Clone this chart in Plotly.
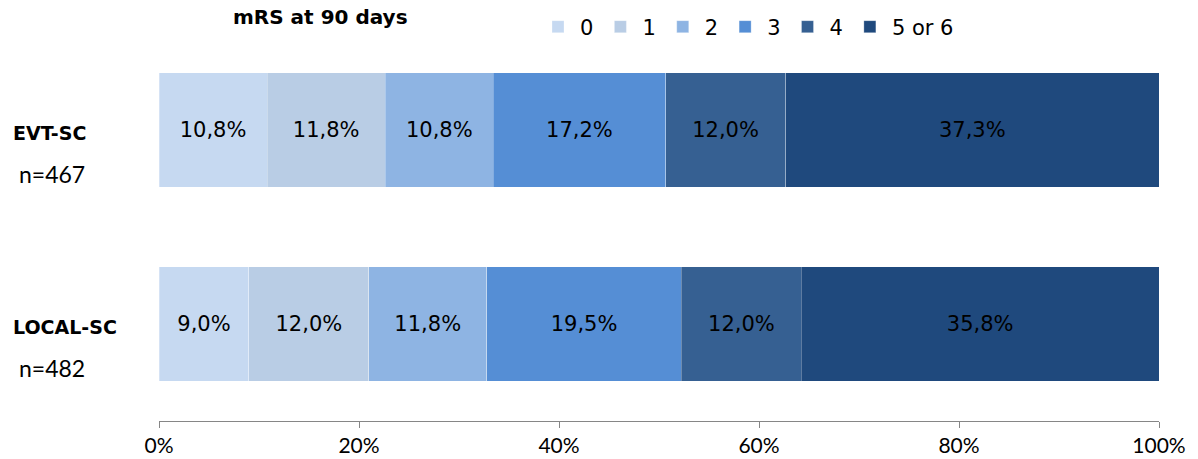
import plotly.graph_objects as go

groups = ["EVT-SC", "LOCAL-SC"]
group_n = ["n=467", "n=482"]
mrs_levels = ["0", "1", "2", "3", "4", "5 or 6"]
values = {
    "0": [10.8, 9.0],
    "1": [11.8, 12.0],
    "2": [10.8, 11.8],
    "3": [17.2, 19.5],
    "4": [12.0, 12.0],
    "5 or 6": [37.3, 35.8],
}
colors = ["#C6D9F1", "#B9CDE5", "#8EB4E3", "#558ED5", "#366092", "#1F497D"]
tick_vals = [0, 20, 40, 60, 80, 100]
tick_text = ["0%", "20%", "40%", "60%", "80%", "100%"]

fig = go.Figure()
for lvl, col in zip(mrs_levels, colors):
    vals = values[lvl]
    fig.add_trace(go.Bar(
        y=groups, x=vals, name=lvl, orientation="h",
        marker=dict(color=col, line=dict(color="rgba(255,255,255,0.35)", width=0.8)),
        text=[f"{v:.1f}%".replace(".", ",") for v in vals],
        textposition="inside", insidetextanchor="middle",
        textfont=dict(family="DejaVu Sans", size=21, color="#000000"),
        hoverinfo="skip",
    ))

L, R, T, B = 159, 39, 33, 38
W, H = 1198, 459
pw = W - L - R
ph = H - T - B

for i, (g, n) in enumerate(zip(groups, group_n)):
    fig.add_annotation(
        xref="paper", yref="y", x=(11 - L) / pw, y=g, xanchor="left",
        yshift=-3, text=f"<b>{g}</b>", showarrow=False,
        font=dict(family="DejaVu Sans", size=19, color="#000000"))
    fig.add_annotation(
        xref="paper", yref="y", x=(17 - L) / pw, y=g, xanchor="left",
        yshift=-44, text=n, showarrow=False,
        font=dict(family="Lato", size=23, color="#000000"))

fig.add_annotation(
    xref="paper", yref="paper", x=(320 - L) / pw, y=(H - B - 17) / ph,
    xanchor="center", yanchor="middle", text="<b>mRS at 90 days</b>", showarrow=False,
    font=dict(family="DejaVu Sans", size=20, color="#000000"))

fig.update_layout(
    width=W, height=H,
    margin=dict(l=L, r=R, t=T, b=B, autoexpand=False),
    barmode="stack", barnorm="percent", bargap=0.412,
    plot_bgcolor="white", paper_bgcolor="white",
    showlegend=True,
    legend=dict(orientation="h", x=(536 - L) / pw, xanchor="left",
                y=(H - B - 27) / ph, yanchor="middle",
                font=dict(family="DejaVu Sans", size=21, color="#000000"),
                traceorder="normal", itemwidth=34,
                bgcolor="rgba(0,0,0,0)"),
    xaxis=dict(range=[0, 100], tickvals=tick_vals, ticktext=tick_text,
               showgrid=False, zeroline=False,
               showline=True, linecolor="#868686", linewidth=1,
               ticks="outside", ticklen=6, tickcolor="#868686",
               tickfont=dict(family="Lato", size=21, color="#000000"),
               fixedrange=True),
    yaxis=dict(categoryorder="array", categoryarray=groups[::-1],
               range=[-0.5, 1.5], showticklabels=False, showgrid=False,
               showline=False, zeroline=False),
    font=dict(family="DejaVu Sans"),
)

fig.write_html("out.html")
